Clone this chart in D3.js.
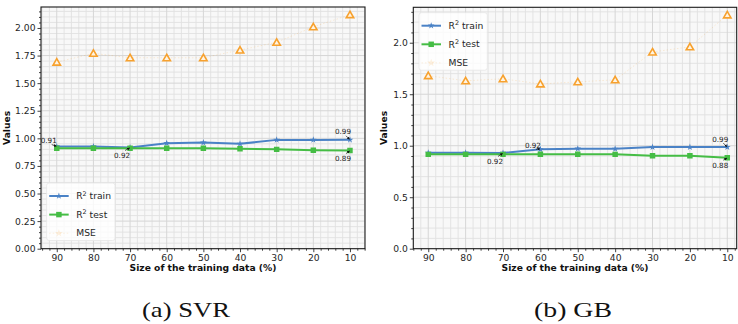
<!DOCTYPE html>
<html>
<head>
<meta charset="utf-8">
<script src="https://cdn.jsdelivr.net/npm/d3@7"></script>
<style>
  body { margin: 0; background: #fff; }
  svg { display: block; font-family: "DejaVu Sans", sans-serif; }
</style>
</head>
<body>
<svg id="chart" width="738" height="324"></svg>
<script>
// training-set size, shared by both panels
const sizes = [90, 80, 70, 60, 50, 40, 30, 20, 10];

// SVR panel
const svrTrain = [0.925, 0.925, 0.917, 0.956, 0.962, 0.950, 0.986, 0.986, 0.987];
const svrTest = [0.911, 0.910, 0.910, 0.910, 0.910, 0.905, 0.900, 0.893, 0.889];
const svrMse = [1.69, 1.77, 1.73, 1.73, 1.73, 1.80, 1.87, 2.01, 2.12];
const svrTicks = [0, 0.25, 0.5, 0.75, 1.0, 1.25, 1.5, 1.75, 2.0];
const svrNotes = [[90, 0.925, "0.91"], [70, 0.917, "0.92"], [10, 0.987, "0.99"], [10, 0.889, "0.89"]];

// GB panel
const gbTrain = [0.932, 0.932, 0.930, 0.965, 0.971, 0.970, 0.987, 0.987, 0.987];
const gbTest = [0.916, 0.916, 0.916, 0.917, 0.917, 0.916, 0.903, 0.903, 0.884];
const gbMse = [1.68, 1.63, 1.65, 1.60, 1.62, 1.64, 1.91, 1.96, 2.27];
const gbTicks = [0, 0.5, 1.0, 1.5, 2.0];
const gbNotes = [[70, 0.930, "0.92"], [60, 0.965, "0.92"], [10, 0.987, "0.99"], [10, 0.884, "0.88"]];

const xTicks = sizes;
const blue = "#4a82c6", green = "#45bd45", orange = "#f7a12e";

const svg = d3.select("#chart");

const defs = svg.append("defs");
defs.append("marker")
  .attr("id", "arrow")
  .attr("viewBox", "0 0 6 6")
  .attr("refX", 5).attr("refY", 3)
  .attr("markerWidth", 4).attr("markerHeight", 4)
  .attr("orient", "auto")
  .append("path").attr("d", "M0,0L6,3L0,6Z").attr("fill", "#111");

function panel(o) {
  const x = d3.scaleLinear().domain(o.xDomain).range([o.left, o.right]);
  const y = d3.scaleLinear().domain([0, o.yMax]).range([o.bottom, o.top]);
  const g = svg.append("g");
  const clipId = "clip" + o.id;

  defs.append("clipPath").attr("id", clipId)
    .append("rect")
    .attr("x", o.left).attr("y", o.top)
    .attr("width", o.right - o.left).attr("height", o.bottom - o.top);

  g.append("rect")
    .attr("x", o.left).attr("y", o.top)
    .attr("width", o.right - o.left).attr("height", o.bottom - o.top)
    .attr("fill", "#f8f8f8");

  const grid = g.append("g").attr("clip-path", `url(#${clipId})`);
  const xMinor = d3.range(4, 98, 2).filter(v => v % 10 !== 0);
  const yMinor = d3.range(0, o.yMax, o.yMinorStep).filter(v => !o.yTicks.some(t => Math.abs(t - v) < 1e-6));

  grid.selectAll(".vmin").data(xMinor).join("line")
    .attr("x1", d => x(d)).attr("x2", d => x(d))
    .attr("y1", o.top).attr("y2", o.bottom)
    .attr("stroke", "#e1e1e1").attr("stroke-width", 0.9);
  grid.selectAll(".hmin").data(yMinor).join("line")
    .attr("y1", d => y(d)).attr("y2", d => y(d))
    .attr("x1", o.left).attr("x2", o.right)
    .attr("stroke", "#e1e1e1").attr("stroke-width", 0.9);
  grid.selectAll(".vmaj").data(xTicks).join("line")
    .attr("x1", d => x(d)).attr("x2", d => x(d))
    .attr("y1", o.top).attr("y2", o.bottom)
    .attr("stroke", "#d6d6d6").attr("stroke-width", 1);
  grid.selectAll(".hmaj").data(o.yTicks).join("line")
    .attr("y1", d => y(d)).attr("y2", d => y(d))
    .attr("x1", o.left).attr("x2", o.right)
    .attr("stroke", "#d6d6d6").attr("stroke-width", 1);

  const line = d3.line().x((d, i) => x(sizes[i])).y(d => y(d));
  const plot = g.append("g").attr("clip-path", `url(#${clipId})`);

  // MSE: faint dotted line, hollow triangles
  plot.append("path").datum(o.mse)
    .attr("d", line).attr("fill", "none")
    .attr("stroke", orange).attr("stroke-opacity", 0.18)
    .attr("stroke-width", 1).attr("stroke-dasharray", "1.5,2");
  plot.selectAll(".mse").data(o.mse).join("path")
    .attr("transform", (d, i) => `translate(${x(sizes[i])},${y(d) + 0.8})`)
    .attr("d", d3.symbol(d3.symbolTriangle, 24))
    .attr("fill", "#fff4e2").attr("stroke", orange).attr("stroke-width", 1.6);

  plot.append("path").datum(o.train)
    .attr("d", line).attr("fill", "none")
    .attr("stroke", blue).attr("stroke-width", 2);
  plot.selectAll(".tr").data(o.train).join("path")
    .attr("transform", (d, i) => `translate(${x(sizes[i])},${y(d)})`)
    .attr("d", d3.symbol(d3.symbolStar, 14))
    .attr("fill", blue);

  plot.append("path").datum(o.test)
    .attr("d", line).attr("fill", "none")
    .attr("stroke", green).attr("stroke-width", 2);
  plot.selectAll(".te").data(o.test).join("path")
    .attr("transform", (d, i) => `translate(${x(sizes[i])},${y(d)})`)
    .attr("d", d3.symbol(d3.symbolSquare, 30))
    .attr("fill", green);

  // annotations
  o.notes.forEach((n, i) => {
    const px = x(n[0]), py = y(n[1]);
    const [dx, dy] = o.noteOffsets[i];
    const ay = dy < 0 ? dy + 4 : dy - 5;
    g.append("line")
      .attr("x1", px + dx + 3).attr("y1", py + ay)
      .attr("x2", px - 0.5).attr("y2", py + (dy < 0 ? -0.5 : 0.5))
      .attr("stroke", "#111").attr("stroke-width", 0.7)
      .attr("marker-end", "url(#arrow)");
    g.append("text")
      .attr("x", px + dx).attr("y", py + dy)
      .attr("dy", "0.35em")
      .attr("text-anchor", "middle")
      .attr("font-size", 7.2).attr("fill", "#222")
      .text(n[2]);
  });

  // axes
  const xAxis = g.append("g").attr("transform", `translate(0,${o.bottom})`)
    .call(d3.axisBottom(x).tickValues(xTicks).tickSize(3.5).tickPadding(2).tickFormat(d3.format("d")));
  g.append("g").attr("transform", `translate(0,${o.bottom})`)
    .call(d3.axisBottom(x).tickValues(xMinor.filter(v => x(v) >= o.left && x(v) <= o.right)).tickSize(2).tickFormat(""))
    .call(a => a.select(".domain").remove());
  const yAxis = g.append("g").attr("transform", `translate(${o.left},0)`)
    .call(d3.axisLeft(y).tickValues(o.yTicks).tickSize(3.5).tickPadding(2).tickFormat(d3.format(o.yFormat)));
  g.append("g").attr("transform", `translate(${o.left},0)`)
    .call(d3.axisLeft(y).tickValues(yMinor).tickSize(2).tickFormat(""))
    .call(a => a.select(".domain").remove());
  [xAxis, yAxis].forEach(a => {
    a.select(".domain").remove();
    a.selectAll("text").attr("font-size", 9.2).attr("fill", "#262626").attr("font-family", "DejaVu Sans");
    a.selectAll("line").attr("stroke", "#111");
  });
  g.selectAll(".tick line").attr("stroke", "#111").attr("stroke-width", 0.8);

  g.append("rect")
    .attr("x", o.left).attr("y", o.top)
    .attr("width", o.right - o.left).attr("height", o.bottom - o.top)
    .attr("fill", "none").attr("stroke", "#1a1a1a").attr("stroke-width", 1.1);

  g.append("text")
    .attr("x", (o.left + o.right) / 2).attr("y", 271)
    .attr("text-anchor", "middle").attr("font-size", 9.2).attr("font-weight", "bold")
    .attr("fill", "#111")
    .text("Size of the training data (%)");
  g.append("text")
    .attr("transform", `translate(${o.yLabelX},${(o.top + o.bottom) / 2}) rotate(-90)`)
    .attr("text-anchor", "middle").attr("font-size", 9.2).attr("font-weight", "bold")
    .attr("fill", "#111")
    .text("Values");

  // legend
  const lg = g.append("g").attr("transform", `translate(${o.left + 5.7},${o.legendTop})`);
  lg.append("rect")
    .attr("width", 68.3).attr("height", 57.5).attr("rx", 2.5)
    .attr("fill", "#fff").attr("fill-opacity", 0.8)
    .attr("stroke", "#e6e6e6").attr("stroke-width", 0.8);
  const entries = [
    { color: blue, sym: d3.symbolStar, size: 14, op: 1, dash: null, w: 2, name: "train" },
    { color: green, sym: d3.symbolSquare, size: 30, op: 1, dash: null, w: 2, name: "test" },
    { color: orange, sym: d3.symbolStar, size: 20, op: 0.15, dash: "1.5,2", w: 1, name: null }
  ];
  entries.forEach((e, i) => {
    const cy = 13 + i * 18.6;
    lg.append("line").attr("x1", 2.5).attr("x2", 22).attr("y1", cy).attr("y2", cy)
      .attr("stroke", e.color).attr("stroke-width", e.w).attr("stroke-opacity", e.op)
      .attr("stroke-dasharray", e.dash);
    lg.append("path").attr("transform", `translate(12.2,${cy})`)
      .attr("d", d3.symbol(e.sym, e.size)).attr("fill", e.color).attr("fill-opacity", e.op);
    const t = lg.append("text").attr("x", 29.5).attr("y", cy).attr("dy", "0.35em")
      .attr("font-size", 9.2).attr("fill", "#262626");
    if (e.name) {
      t.append("tspan").text("R");
      t.append("tspan").attr("font-size", 6.4).attr("dy", "-0.55em").text("2");
      t.append("tspan").attr("dy", "0.35em").text(" " + e.name);
    } else {
      t.text("MSE");
    }
  });

  svg.append("text")
    .attr("x", o.captionX).attr("y", 317)
    .attr("text-anchor", "middle")
    .attr("font-family", "Liberation Serif, serif").attr("font-size", 22)
    .attr("textLength", o.captionW).attr("lengthAdjust", "spacingAndGlyphs")
    .attr("fill", "#111")
    .text(o.caption);
}

panel({
  id: "a", left: 41, right: 365, top: 7, bottom: 248.7,
  xDomain: [94.3, 5.9], yMax: 2.19, yTicks: svrTicks, yMinorStep: 0.05, yFormat: ".2f",
  train: svrTrain, test: svrTest, mse: svrMse,
  notes: svrNotes, noteOffsets: [[-8, -6], [-8, 8], [-7, -8], [-7, 8]],
  legendTop: 183, yLabelX: 10, captionX: 186, captionW: 88, caption: "(a) SVR"
});

panel({
  id: "b", left: 413.3, right: 736.7, top: 7.3, bottom: 248.7,
  xDomain: [94.0, 7.48], yMax: 2.344, yTicks: gbTicks, yMinorStep: 0.1, yFormat: ".1f",
  train: gbTrain, test: gbTest, mse: gbMse,
  notes: gbNotes, noteOffsets: [[-8, 8.5], [-7.5, -4], [-7, -8], [-7, 7.5]],
  legendTop: 12.7, yLabelX: 386.5, captionX: 573, captionW: 78, caption: "(b) GB"
});
</script>
</body>
</html>
